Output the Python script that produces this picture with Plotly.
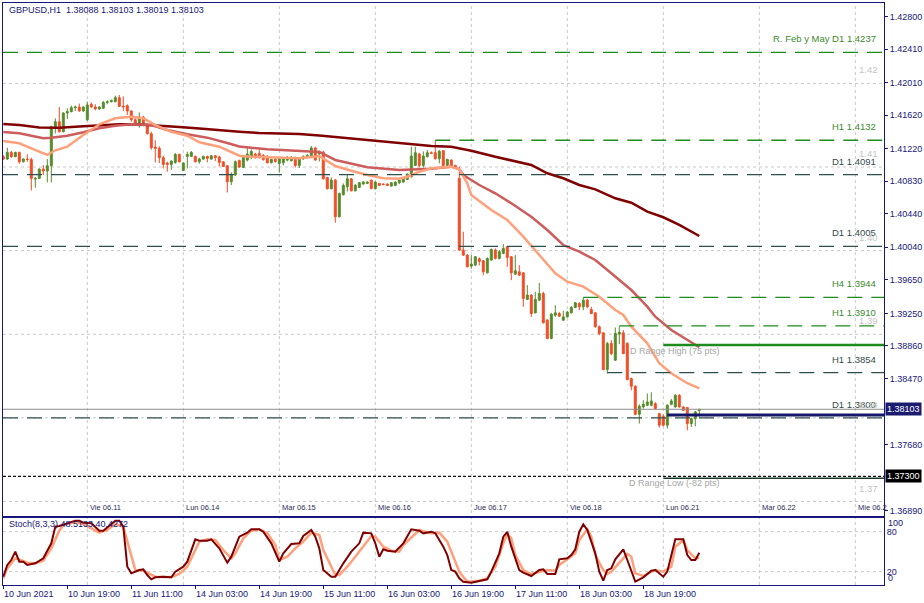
import plotly.graph_objects as go

# ---------------- data (GBPUSD H1, 10 Jun 2021 03:00 -> 21 Jun 2021 08:00) ----------------
bar_index = list(range(175))

opens = [
    1.41123, 1.41095, 1.41175, 1.41123, 1.41175, 1.41063, 1.41095, 1.41091, 1.40856, 1.40864,
    1.40975, 1.40952, 1.41015, 1.41482, 1.41542, 1.41422, 1.41646, 1.41662, 1.41710, 1.41718,
    1.41670, 1.41566, 1.41750, 1.41718, 1.41694, 1.41702, 1.41773, 1.41781, 1.41781, 1.41829,
    1.41726, 1.41734, 1.41670, 1.41566, 1.41502, 1.41598, 1.41502, 1.41398, 1.41239, 1.41223,
    1.41111, 1.41047, 1.41031, 1.41055, 1.41151, 1.40959, 1.41127, 1.41127, 1.41127, 1.41063,
    1.41095, 1.41127, 1.41095, 1.41135, 1.41119, 1.41063, 1.41015, 1.40824, 1.40904, 1.41079,
    1.40995, 1.41083, 1.41115, 1.41155, 1.41163, 1.41139, 1.41131, 1.41051, 1.41091, 1.41043,
    1.41051, 1.41083, 1.41075, 1.41115, 1.41019, 1.41099, 1.41115, 1.41123, 1.41227, 1.41155,
    1.41179, 1.40875, 1.40740, 1.40843, 1.40405, 1.40668, 1.40764, 1.40859, 1.40716, 1.40756,
    1.40796, 1.40804, 1.40843, 1.40740, 1.40804, 1.40796, 1.40796, 1.40772, 1.40780, 1.40812,
    1.40820, 1.40851, 1.40883, 1.41019, 1.41155, 1.41019, 1.41123, 1.41171, 1.41171, 1.41099,
    1.41195, 1.41019, 1.41083, 1.41019, 1.40864, 1.40007, 1.39947, 1.39815, 1.39827, 1.39903,
    1.39879, 1.39735, 1.39887, 1.40007, 1.39907, 1.39966, 1.40046, 1.39927, 1.39719, 1.39747,
    1.39735, 1.39416, 1.39468, 1.39256, 1.39408, 1.39488, 1.39168, 1.38949, 1.39228, 1.39248,
    1.39168, 1.39208, 1.39256, 1.39320, 1.39368, 1.39328, 1.39408, 1.39296, 1.39256, 1.39089,
    1.39017, 1.38578, 1.38889, 1.38690, 1.39001, 1.39017, 1.38889, 1.38470, 1.38378, 1.38043,
    1.38131, 1.38151, 1.38151, 1.38171, 1.38051, 1.38019, 1.37912, 1.38163, 1.38131, 1.38271,
    1.38131, 1.38123, 1.37932, 1.37991, 1.38088,
]
highs = [
    1.41143, 1.41231, 1.41191, 1.41183, 1.41183, 1.41103, 1.41151, 1.41111, 1.40880, 1.40983,
    1.41023, 1.41095, 1.41494, 1.41582, 1.41718, 1.41654, 1.41702, 1.41734, 1.41734, 1.41758,
    1.41726, 1.41781, 1.41773, 1.41750, 1.41726, 1.41789, 1.41797, 1.41805, 1.41853, 1.41861,
    1.41845, 1.41750, 1.41678, 1.41598, 1.41654, 1.41614, 1.41526, 1.41422, 1.41319, 1.41247,
    1.41135, 1.41063, 1.41079, 1.41167, 1.41159, 1.41055, 1.41183, 1.41191, 1.41135, 1.41111,
    1.41135, 1.41135, 1.41143, 1.41143, 1.41135, 1.41071, 1.41023, 1.40936, 1.41079, 1.41087,
    1.41131, 1.41243, 1.41211, 1.41171, 1.41211, 1.41155, 1.41139, 1.41099, 1.41115, 1.41107,
    1.41115, 1.41131, 1.41131, 1.41123, 1.41115, 1.41139, 1.41155, 1.41251, 1.41243, 1.41195,
    1.41195, 1.40883, 1.40875, 1.40859, 1.40692, 1.40804, 1.40915, 1.40867, 1.40796, 1.40820,
    1.40835, 1.40828, 1.40851, 1.40828, 1.40812, 1.40804, 1.40804, 1.40820, 1.40828, 1.40851,
    1.40883, 1.40923, 1.41243, 1.41243, 1.41171, 1.41187, 1.41203, 1.41187, 1.41322, 1.41203,
    1.41203, 1.41099, 1.41091, 1.41027, 1.41004, 1.40226, 1.39959, 1.39947, 1.39935, 1.39919,
    1.39887, 1.39919, 1.40026, 1.40026, 1.40007, 1.40078, 1.40054, 1.39935, 1.39946, 1.39827,
    1.39743, 1.39587, 1.39480, 1.39507, 1.39615, 1.39508, 1.39184, 1.39256, 1.39348, 1.39268,
    1.39280, 1.39280, 1.39336, 1.39388, 1.39384, 1.39440, 1.39424, 1.39328, 1.39264, 1.39105,
    1.39025, 1.38909, 1.38929, 1.39081, 1.39097, 1.39049, 1.38905, 1.38482, 1.38390, 1.38163,
    1.38211, 1.38291, 1.38307, 1.38187, 1.38059, 1.38043, 1.38163, 1.38227, 1.38283, 1.38283,
    1.38139, 1.38131, 1.38004, 1.38083, 1.38103,
]
lows = [
    1.41083, 1.41087, 1.41111, 1.41119, 1.41039, 1.41055, 1.41063, 1.40720, 1.40752, 1.40856,
    1.40904, 1.40816, 1.40816, 1.41402, 1.41414, 1.41414, 1.41574, 1.41654, 1.41670, 1.41662,
    1.41662, 1.41550, 1.41710, 1.41678, 1.41686, 1.41694, 1.41750, 1.41773, 1.41773, 1.41718,
    1.41670, 1.41622, 1.41542, 1.41494, 1.41470, 1.41486, 1.41390, 1.41207, 1.41055, 1.41047,
    1.40983, 1.40944, 1.40967, 1.41039, 1.41055, 1.40952, 1.40983, 1.41119, 1.41055, 1.41039,
    1.41087, 1.41055, 1.41087, 1.41071, 1.41007, 1.40999, 1.40696, 1.40784, 1.40896, 1.40991,
    1.40987, 1.41067, 1.41091, 1.41099, 1.41099, 1.41075, 1.41043, 1.41043, 1.41051, 1.40931,
    1.41019, 1.41067, 1.41067, 1.40995, 1.40987, 1.41083, 1.41099, 1.41115, 1.41075, 1.41067,
    1.40851, 1.40732, 1.40732, 1.40333, 1.40397, 1.40660, 1.40708, 1.40708, 1.40708, 1.40748,
    1.40788, 1.40796, 1.40732, 1.40732, 1.40772, 1.40780, 1.40772, 1.40764, 1.40772, 1.40796,
    1.40812, 1.40843, 1.40875, 1.41011, 1.40995, 1.40995, 1.41115, 1.41155, 1.41091, 1.41043,
    1.41011, 1.41011, 1.40987, 1.40979, 1.39999, 1.39935, 1.39799, 1.39783, 1.39815, 1.39823,
    1.39707, 1.39727, 1.39879, 1.39895, 1.39895, 1.39958, 1.39807, 1.39647, 1.39711, 1.39695,
    1.39328, 1.39408, 1.39208, 1.39248, 1.39400, 1.39129, 1.38941, 1.38941, 1.39208, 1.39208,
    1.39160, 1.39200, 1.39248, 1.39312, 1.39288, 1.39288, 1.39312, 1.39240, 1.39081, 1.38989,
    1.38570, 1.38530, 1.38749, 1.38682, 1.38881, 1.38761, 1.38450, 1.38330, 1.38031, 1.37932,
    1.38111, 1.38143, 1.38139, 1.38099, 1.37884, 1.37900, 1.37872, 1.38151, 1.38123, 1.38123,
    1.38083, 1.37852, 1.37892, 1.37900, 1.38019,
]
closes = [
    1.41095, 1.41175, 1.41123, 1.41175, 1.41063, 1.41095, 1.41091, 1.40864, 1.40864, 1.40975,
    1.40952, 1.41015, 1.41482, 1.41542, 1.41422, 1.41646, 1.41662, 1.41710, 1.41718, 1.41670,
    1.41718, 1.41742, 1.41718, 1.41694, 1.41718, 1.41773, 1.41781, 1.41797, 1.41829, 1.41726,
    1.41718, 1.41670, 1.41566, 1.41518, 1.41598, 1.41502, 1.41398, 1.41231, 1.41223, 1.41111,
    1.41031, 1.41031, 1.41071, 1.41151, 1.41063, 1.41047, 1.41151, 1.41175, 1.41063, 1.41095,
    1.41127, 1.41103, 1.41135, 1.41111, 1.41055, 1.41007, 1.40824, 1.40912, 1.41063, 1.40999,
    1.41115, 1.41155, 1.41187, 1.41115, 1.41115, 1.41091, 1.41051, 1.41091, 1.41067, 1.41099,
    1.41099, 1.41115, 1.41115, 1.41019, 1.41107, 1.41123, 1.41139, 1.41227, 1.41083, 1.41187,
    1.40859, 1.40740, 1.40843, 1.40405, 1.40684, 1.40780, 1.40859, 1.40716, 1.40780, 1.40812,
    1.40820, 1.40820, 1.40744, 1.40820, 1.40780, 1.40792, 1.40780, 1.40812, 1.40820, 1.40843,
    1.40875, 1.40915, 1.41131, 1.41171, 1.41019, 1.41131, 1.41171, 1.41163, 1.41099, 1.41187,
    1.41019, 1.41091, 1.40995, 1.40995, 1.40007, 1.39947, 1.39807, 1.39839, 1.39927, 1.39871,
    1.39747, 1.39907, 1.40014, 1.39907, 1.39986, 1.40026, 1.39919, 1.39735, 1.39759, 1.39707,
    1.39428, 1.39468, 1.39248, 1.39416, 1.39488, 1.39137, 1.38949, 1.39240, 1.39256, 1.39216,
    1.39208, 1.39264, 1.39320, 1.39376, 1.39328, 1.39408, 1.39328, 1.39248, 1.39089, 1.39009,
    1.38578, 1.38889, 1.38769, 1.39009, 1.39025, 1.38769, 1.38458, 1.38378, 1.38043, 1.38139,
    1.38163, 1.38191, 1.38203, 1.38111, 1.37912, 1.37912, 1.38151, 1.38203, 1.38271, 1.38131,
    1.38091, 1.37932, 1.37991, 1.38071, 1.38103,
]

# moving averages (bar index, price)
ma_slow_bars = [0, 4, 9, 14, 19, 24, 29, 34, 39, 44, 49, 54, 59, 64, 69, 74, 79, 84, 89, 94, 99, 104,
                107, 112, 117, 123, 132, 136, 140, 144, 148, 153, 157, 161, 165, 169, 174]
ma_slow_vals = [1.41514, 1.41502, 1.41473, 1.41470, 1.41485, 1.41502, 1.41511, 1.41508, 1.41496, 1.41479,
                1.41461, 1.41437, 1.41422, 1.41407, 1.41401, 1.41395, 1.41377, 1.41353, 1.41335, 1.41311,
                1.41281, 1.41257, 1.41251, 1.41243, 1.41195, 1.41123, 1.41024, 1.40925, 1.40865, 1.40785,
                1.40733, 1.40626, 1.40573, 1.40466, 1.40399, 1.40307, 1.40175]

ma_mid_bars = [0, 4, 7, 10, 12, 16, 20, 24, 28, 32, 37, 41, 46, 51, 56, 59, 66, 74, 79, 81, 83, 91, 99,
               107, 112, 114, 115, 119, 123, 127, 132, 136, 140, 144, 148, 152, 157, 161, 163, 167, 174]
ma_mid_vals = [1.41419, 1.41403, 1.41374, 1.41343, 1.41351, 1.41374, 1.41415, 1.41463, 1.41494, 1.41511,
               1.41502, 1.41443, 1.41391, 1.41351, 1.41287, 1.41245, 1.41212, 1.41195, 1.41180, 1.41132,
               1.41084, 1.40997, 1.40964, 1.40980, 1.41004, 1.40973, 1.40905, 1.40785, 1.40686, 1.40566,
               1.40406, 1.40247, 1.40067, 1.39987, 1.39888, 1.39729, 1.39529, 1.39330, 1.39210, 1.39051,
               1.38844]

ma_fast_bars = [0, 4, 7, 10, 11, 13, 16, 20, 24, 28, 32, 35, 38, 42, 46, 49, 54, 59, 62, 66, 74, 79, 83,
                87, 91, 95, 99, 101, 104, 107, 112, 114, 116, 117, 122, 126, 130, 134, 138, 141, 145,
                149, 153, 155, 157, 161, 164, 167, 171, 174]
ma_fast_vals = [1.41311, 1.41284, 1.41224, 1.41164, 1.41144, 1.41200, 1.41243, 1.41383, 1.41511, 1.41583,
                1.41602, 1.41583, 1.41502, 1.41422, 1.41374, 1.41296, 1.41243, 1.41135, 1.41123, 1.41116,
                1.41104, 1.41130, 1.41012, 1.40956, 1.40905, 1.40865, 1.40860, 1.40884, 1.40944, 1.40985,
                1.41004, 1.40973, 1.40805, 1.40665, 1.40486, 1.40366, 1.40167, 1.39948, 1.39729, 1.39629,
                1.39569, 1.39449, 1.39290, 1.39230, 1.39090, 1.38892, 1.38653, 1.38533, 1.38414, 1.38354]

# Stochastic (8,3,3) (bar index, value)
stoch_k_bars = [0, 1, 2, 3, 4, 5, 6, 8, 10, 12, 13, 14, 16, 18, 19, 20, 22, 24, 25, 26, 28, 29, 30, 31,
                32, 34, 35, 36, 37, 38, 40, 42, 43, 45, 46, 48, 49, 51, 52, 54, 56, 57, 59, 61, 62, 64,
                65, 67, 68, 69, 70, 72, 74, 75, 77, 78, 79, 80, 82, 83, 85, 87, 89, 90, 92, 93, 94, 95,
                96, 98, 100, 101, 102, 104, 105, 107, 108, 110, 111, 112, 113, 114, 115, 117, 119, 121,
                122, 124, 125, 126, 127, 129, 130, 132, 134, 135, 136, 138, 139, 141, 142, 143, 144,
                145, 146, 148, 149, 150, 151, 152, 153, 155, 156, 157, 158, 160, 162, 163, 165, 166,
                168, 170, 171, 172, 173, 174]
stoch_k_vals = [12.5, 30, 37.5, 50, 35, 35, 30, 32.5, 40, 62.5, 87.5, 88.5, 92.5, 96.5, 96.5, 93.5, 92.5,
                81.5, 81.5, 86.5, 96.5, 96.5, 87.5, 27.5, 17.5, 22.5, 23.5, 15, 8.5, 11.5, 12.5, 11.5,
                20, 27.5, 35, 68.5, 66.5, 66.5, 68.5, 55, 33.5, 42.5, 72.5, 78.5, 83.5, 83.5, 80, 62.5,
                47.5, 35, 47.5, 61.5, 62.5, 73.5, 82.5, 72.5, 55, 22.5, 12.5, 12.5, 32.5, 50, 62.5, 78.5,
                77.5, 62.5, 42.5, 53.5, 51.5, 50, 62.5, 73.5, 83.5, 81.5, 77.5, 80, 77.5, 57.5, 45,
                22.5, 20, 10, 5, 3.5, 6.5, 8.5, 20, 47.5, 72.5, 79.5, 57.5, 22.5, 18.5, 13.5, 22.5,
                23.5, 16.5, 16.5, 38.5, 40, 45, 53.5, 80, 91, 82.5, 47.5, 20, 6.5, 22.5, 25, 38.5, 53.5,
                37.5, 22.5, 5, 11.5, 21.5, 22.5, 12.5, 20, 68.5, 68.5, 45, 37.5, 37.5, 48.5133]

stoch_d_bars = [0, 1, 3, 4, 6, 8, 10, 12, 14, 15, 18, 20, 22, 24, 26, 28, 30, 32, 33, 35, 36, 38, 42, 44,
                46, 48, 49, 51, 53, 55, 57, 58, 60, 62, 64, 66, 68, 69, 71, 73, 75, 77, 79, 80, 82, 83,
                84, 86, 88, 90, 92, 93, 95, 97, 99, 100, 103, 104, 107, 109, 111, 113, 114, 115, 116,
                119, 121, 123, 125, 126, 127, 128, 130, 132, 134, 136, 138, 139, 141, 143, 144, 146,
                147, 148, 150, 151, 152, 154, 156, 157, 158, 160, 162, 163, 165, 167, 168, 170, 171,
                173, 174]
stoch_d_vals = [10, 25, 40, 38.5, 33.5, 32.5, 36.5, 55, 81.5, 90, 94.5, 91.5, 85, 78.5, 82.5, 91.5, 87.5,
                42.5, 22.5, 21.5, 18.5, 12.5, 11.5, 16.5, 27.5, 52.5, 65, 68.5, 67.5, 52.5, 40, 47.5, 70,
                81.5, 83.5, 77.5, 60, 37.5, 42.5, 55, 65, 78.5, 75, 52.5, 27.5, 15, 15, 27.5, 42.5, 57.5,
                73.5, 72.5, 57.5, 51.5, 50, 60, 77.5, 82.5, 77.5, 78.5, 65, 35, 20, 12, 5, 6.5, 10, 27.5,
                62.5, 76.5, 70, 45, 22.5, 16.5, 20, 22.5, 21.5, 30, 38.5, 47.5, 67.5, 83.5, 72.5, 45,
                22.5, 16.5, 20, 32.5, 46.5, 42.5, 17.5, 13.5, 20, 22.5, 20, 27.5, 57.5, 67.5, 52.5, 40,
                40.4272]

# horizontal levels drawn on the chart
level_prices = [1.4237, 1.4132, 1.4091, 1.4005, 1.3944, 1.3910, 1.3854, 1.3800]
level_labels = ["R. Feb y May D1 1.4237", "H1 1.4132", "D1 1.4091", "D1 1.4005",
                "H4 1.3944", "H1 1.3910", "H1 1.3854", "D1 1.3800"]
level_start_bar = [0, 108, 0, 0, 145, 154, 151, 0]
level_is_green = [True, True, False, False, True, True, False, False]

round_levels = [1.42, 1.41, 1.40, 1.39, 1.38, 1.37]
round_labels = ["1.42", "1.41", "1.40", "1.39", "1.38", "1.37"]

d_range_high = 1.38872
d_range_low = 1.37300
d_range_start_bar = 165
d_open_line = 1.38034
d_open_start_bar = 166
bid_price = 1.38103
d_range_low_base = 1.37278

price_tick_vals = [1.42800, 1.42410, 1.42010, 1.41620, 1.41220, 1.40830, 1.40440, 1.40040,
                   1.39650, 1.39250, 1.38860, 1.38470, 1.37680, 1.36890]

day_start_bars = [21, 45, 69, 93, 117, 141, 165, 189, 213]
day_labels = ["Vie 06.11", "Lun 06.14", "Mar 06.15", "Mie 06.16", "Jue 06.17",
              "Vie 06.18", "Lun 06.21", "Mar 06.22", "Mie 06.2"]

time_label_bars = [0, 16, 32, 48, 64, 80, 96, 112, 128, 144, 160]
time_labels = ["10 Jun 2021", "10 Jun 19:00", "11 Jun 11:00", "14 Jun 03:00", "14 Jun 19:00",
               "15 Jun 11:00", "16 Jun 03:00", "16 Jun 19:00", "17 Jun 11:00", "18 Jun 03:00",
               "18 Jun 19:00"]

# ---------------- styling ----------------
NAVY = "#17177a"
BULL = "#578c2c"
BEAR = "#f34d27"
GREEN = "#1f8b1f"
SLATE = "#2f4f4f"
GRID = "#c8c8c8"
FONT = "Liberation Sans, Arial, sans-serif"
XMIN, XMAX = -0.075, 220.175
YMIN, YMAX = 1.368266, 1.429614

fig = go.Figure()

fig.add_trace(go.Candlestick(
    x=bar_index, open=opens, high=highs, low=lows, close=closes,
    increasing=dict(line=dict(color=BULL, width=1), fillcolor=BULL),
    decreasing=dict(line=dict(color=BEAR, width=1), fillcolor=BEAR),
    whiskerwidth=0, xaxis="x", yaxis="y", showlegend=False, hoverinfo="skip"))

for bars, vals, col in [(ma_slow_bars, ma_slow_vals, "#800000"),
                        (ma_mid_bars, ma_mid_vals, "#cd5c5c"),
                        (ma_fast_bars, ma_fast_vals, "#ffa07a")]:
    fig.add_trace(go.Scatter(x=bars, y=vals, mode="lines", line=dict(color=col, width=2.5),
                             xaxis="x", yaxis="y", showlegend=False, hoverinfo="skip"))

fig.add_trace(go.Scatter(x=stoch_d_bars, y=stoch_d_vals, mode="lines",
                         line=dict(color="#ffa07a", width=2.5), xaxis="x2", yaxis="y2",
                         showlegend=False, hoverinfo="skip"))
fig.add_trace(go.Scatter(x=stoch_k_bars, y=stoch_k_vals, mode="lines",
                         line=dict(color="#800000", width=2), xaxis="x2", yaxis="y2",
                         showlegend=False, hoverinfo="skip"))

shapes = []
# grid: day separators and round numbers
for b in day_start_bars:
    shapes.append(dict(type="line", xref="x", yref="paper", x0=b, x1=b, y0=0, y1=1,
                       line=dict(color=GRID, width=1, dash="3px,3px"), layer="below"))
for p in round_levels:
    shapes.append(dict(type="line", xref="paper", yref="y", x0=0, x1=1, y0=p, y1=p,
                       line=dict(color=GRID, width=1, dash="3px,3px"), layer="below"))
for v in [20, 80]:
    shapes.append(dict(type="line", xref="paper", yref="y2", x0=0, x1=1, y0=v, y1=v,
                       line=dict(color=GRID, width=1, dash="3px,3px"), layer="below"))
# level lines
for p, sb, g in zip(level_prices, level_start_bar, level_is_green):
    x0 = XMIN if sb == 0 else sb
    shapes.append(dict(type="line", xref="x", yref="y", x0=x0, x1=XMAX, y0=p, y1=p,
                       line=dict(color=GREEN if g else SLATE, width=1.3, dash="15px,9px")))
shapes.append(dict(type="line", xref="x", yref="y", x0=XMIN, x1=XMAX, y0=bid_price, y1=bid_price,
                   line=dict(color="#8c8c8c", width=1)))
shapes.append(dict(type="line", xref="x", yref="y", x0=d_range_start_bar, x1=XMAX,
                   y0=d_range_high, y1=d_range_high, line=dict(color=GREEN, width=2.5)))
shapes.append(dict(type="line", xref="x", yref="y", x0=d_open_start_bar, x1=XMAX,
                   y0=d_open_line, y1=d_open_line, line=dict(color="#16166b", width=3)))
shapes.append(dict(type="line", xref="x", yref="y", x0=XMIN, x1=XMAX, y0=d_range_low, y1=d_range_low,
                   line=dict(color="#111111", width=1.3, dash="3px,2px")))
shapes.append(dict(type="line", xref="x", yref="y", x0=d_range_start_bar, x1=XMAX,
                   y0=d_range_low_base, y1=d_range_low_base, line=dict(color="#1d3b2b", width=1.3)))

ann = []


def add_text(text, x, y, xref, yref, xanchor="left", yanchor="middle", size=9, color=NAVY,
             xshift=0, yshift=0, **kw):
    ann.append(dict(text=text, x=x, y=y, xref=xref, yref=yref, xanchor=xanchor, yanchor=yanchor,
                    showarrow=False, xshift=xshift, yshift=yshift,
                    font=dict(family=FONT, size=size, color=color), **kw))


add_text("GBPUSD,H1  1.38088 1.38103 1.38019 1.38103", 0.0045, 0.988, "paper", "paper")
add_text("Stoch(8,3,3) 48.5133 40.4272", 0.0045, 0.1048, "paper", "paper")

for p, lab, g in zip(level_prices, level_labels, level_is_green):
    add_text(lab, 0.9932, p, "paper", "y", xanchor="right", size=9.5,
             color="#3d8a2e" if g else "#354a4a", yshift=13.5)
for p, lab in zip(round_levels, round_labels):
    add_text(lab, 0.9955, p, "paper", "y", xanchor="right", size=9.5, color="#c4c4c4", yshift=13.5)

add_text("D Range High (75 pts)", 156.2, d_range_high, "x", "y", size=9, color="#a6a6a6", yshift=-6)
add_text("D Range Low (-82 pts)", 156.0, d_range_low, "x", "y", size=9, color="#a6a6a6", yshift=-6.5)

for b, lab in zip(day_start_bars, day_labels):
    add_text(lab, b, 1.36934, "x", "y", size=7.5, color="#2c2c55", xshift=1)

for b, lab in zip(time_label_bars, time_labels):
    add_text(lab, b, -0.0155, "x2", "paper", size=9, color=NAVY, xshift=-1)

# price boxes on the right scale
ann.append(dict(text="1.38103", x=1, y=bid_price, xref="paper", yref="y", xanchor="left",
                yanchor="middle", showarrow=False, xshift=1, bgcolor="#1a1a6e", borderpad=1,
                font=dict(family=FONT, size=9, color="white")))
ann.append(dict(text="1.37300", x=1, y=d_range_low, xref="paper", yref="y", xanchor="left",
                yanchor="middle", showarrow=False, xshift=1, bgcolor="#000000", borderpad=1,
                font=dict(family=FONT, size=9, color="white")))
add_text("100", 1, 93.7, "paper", "y2", size=9, xshift=2)
add_text("0", 1, 11.2, "paper", "y2", size=9, xshift=2)

fig.update_layout(
    width=924, height=603,
    margin=dict(l=3, r=40, t=3, b=18, autoexpand=False),
    paper_bgcolor="white", plot_bgcolor="white", showlegend=False,
    font=dict(family=FONT, size=9, color=NAVY),
    shapes=shapes, annotations=ann,
    xaxis=dict(domain=[0, 1], anchor="y", range=[XMIN, XMAX], showticklabels=False, ticks="",
               showgrid=False, zeroline=False, showline=True, mirror=True, linecolor=NAVY,
               linewidth=1, rangeslider=dict(visible=False), fixedrange=True),
    yaxis=dict(domain=[0.118557, 1], anchor="x", range=[YMIN, YMAX], side="right",
               tickmode="array", tickvals=price_tick_vals,
               ticktext=[f"{v:.5f}" for v in price_tick_vals],
               ticks="outside", ticklen=3, tickcolor=NAVY,
               tickfont=dict(family=FONT, size=9, color=NAVY), showgrid=False, zeroline=False,
               showline=True, mirror=True, linecolor=NAVY, linewidth=1, automargin=False),
    xaxis2=dict(domain=[0, 1], anchor="y2", range=[XMIN, XMAX], tickmode="array",
                tickvals=time_label_bars, ticks="outside", ticklen=3, tickcolor=NAVY,
                showticklabels=False, showgrid=False, zeroline=False, showline=True, mirror=True,
                linecolor=NAVY, linewidth=1),
    yaxis2=dict(domain=[0, 0.11512], anchor="x2", range=[0, 100.5], side="right",
                tickmode="array", tickvals=[20, 80], ticktext=["20", "80"], ticks="",
                tickfont=dict(family=FONT, size=9, color=NAVY), showgrid=False, zeroline=False,
                showline=True, mirror=True, linecolor=NAVY, linewidth=1, automargin=False),
)

fig.write_html("out.html", config={"displayModeBar": False},
               post_script="document.body.style.margin='0';document.body.style.overflow='hidden';")
